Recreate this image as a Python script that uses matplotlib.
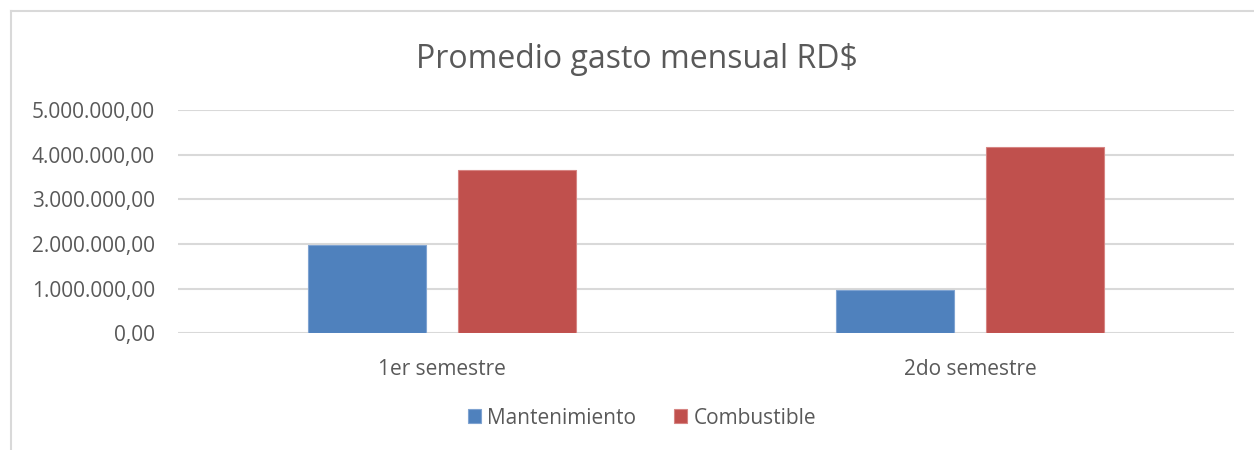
import matplotlib.pyplot as plt
import numpy as np
from matplotlib.lines import Line2D
from matplotlib.ticker import FuncFormatter

plt.rcParams['font.family'] = ['Open Sans', 'DejaVu Sans']

# Datos del gráfico
semestres = ['1er semestre', '2do semestre']
mantenimiento = [1980000, 970000]
combustible = [3655000, 4165000]
series = ['Mantenimiento', 'Combustible']
colores = ['#4F81BD', '#C0504D']
bordes = ['#7FA3D1', '#D68583']

fig = plt.figure(figsize=(12.54, 4.5), dpi=100)
ax = fig.add_axes([178 / 1254, 1 - 333.3 / 450, (1234 - 178) / 1254, (333.3 - 110) / 450])

x = np.arange(len(semestres))
ancho = 0.225
desplaz = 0.142
ax.bar(x - desplaz, mantenimiento, ancho, color=colores[0], edgecolor=bordes[0],
       linewidth=0.8, label=series[0], zorder=3)
ax.bar(x + desplaz, combustible, ancho, color=colores[1], edgecolor=bordes[1],
       linewidth=0.8, label=series[1], zorder=3)

ax.set_xlim(-0.5, len(semestres) - 0.5)
ax.set_ylim(0, 5000000)
ax.set_yticks(np.arange(0, 5000001, 1000000))
ax.yaxis.set_major_formatter(FuncFormatter(
    lambda v, p: f'{v:,.2f}'.replace(',', 'X').replace('.', ',').replace('X', '.')))
ax.set_xticks(x)
ax.set_xticklabels(semestres)

ax.grid(axis='y', color='#D9D9D9', linewidth=1.5, zorder=0)
for s in ax.spines.values():
    s.set_visible(False)
ax.tick_params(axis='both', length=0, labelsize=15, colors='#595959')
ax.tick_params(axis='y', pad=16.5)
ax.tick_params(axis='x', pad=18.5)

fig.text(0.508, 1 - 59 / 450, 'Promedio gasto mensual RD$', ha='center', va='center',
         fontsize=23, color='#595959')

leg = fig.legend(loc='center', bbox_to_anchor=(642 / 1254, 1 - 418 / 450), ncol=2,
                 frameon=False, fontsize=15, handlelength=0.65, handleheight=0.65,
                 handletextpad=0.3, columnspacing=1.8, labelcolor='#595959')

# Marco del área del gráfico
fig.add_artist(Line2D([11 / 1254, 11 / 1254], [0, 1 - 11 / 450], color='#D9D9D9', linewidth=1.5))
fig.add_artist(Line2D([11 / 1254, 1], [1 - 11 / 450, 1 - 11 / 450], color='#D9D9D9', linewidth=1.5))

fig.savefig('out.png', dpi=100, facecolor='white')
